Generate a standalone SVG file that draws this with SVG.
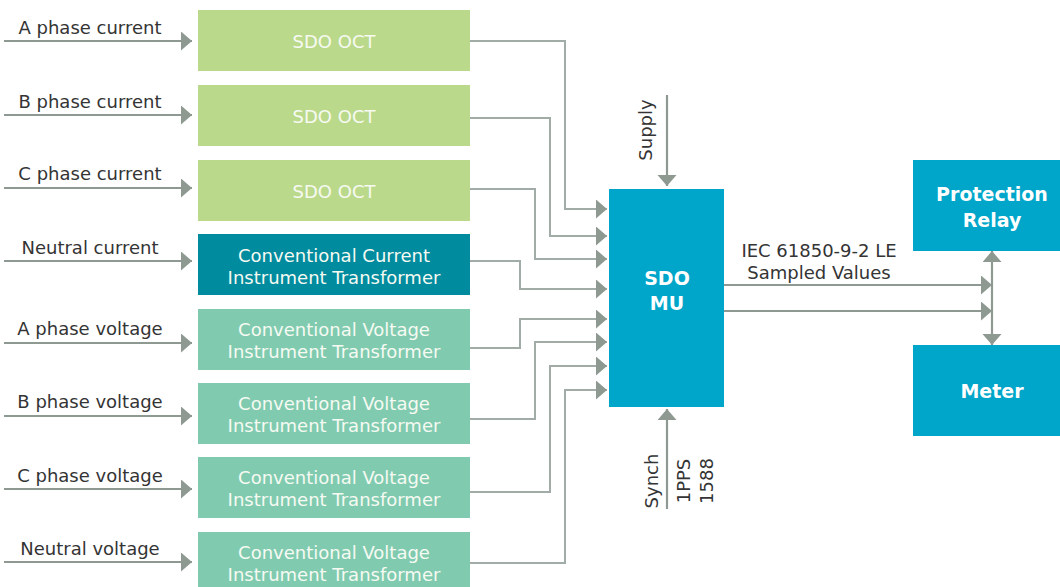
<svg xmlns="http://www.w3.org/2000/svg" width="1060" height="587" viewBox="0 0 1060 587">
<style>
text{font-family:"DejaVu Sans","Liberation Sans",sans-serif;font-size:18px}
.lbl{fill:#343434;text-anchor:middle}
.bt{fill:#f6faf2;text-anchor:middle}
.bb{fill:#ffffff;text-anchor:middle;font-weight:bold;font-size:19px}
.oct{fill:#bbd98a}
.cct{fill:#008b9f}
.cvt{fill:#80cbb0}
.mu{fill:#00a6ca}
.in{stroke:#8d9991;stroke-width:2.2;fill:none}
.cn{stroke:#a2aca7;stroke-width:2;fill:none}
</style>
<defs>
<marker id="ah" markerUnits="userSpaceOnUse" markerWidth="12" markerHeight="20" refX="11" refY="9.5" orient="auto-start-reverse">
<path d="M0,0 L11,9.5 L0,19 z" fill="#8d9991"/>
</marker>
</defs>

<g id="labels">
<text class="lbl" x="90" y="34">A phase current</text>
<text class="lbl" x="90" y="108">B phase current</text>
<text class="lbl" x="90" y="180">C phase current</text>
<text class="lbl" x="90" y="254">Neutral current</text>
<text class="lbl" x="90" y="335">A phase voltage</text>
<text class="lbl" x="90" y="408">B phase voltage</text>
<text class="lbl" x="90" y="482">C phase voltage</text>
<text class="lbl" x="90" y="555">Neutral voltage</text>
</g>

<g id="oct-a"><rect class="oct" x="198" y="10" width="272" height="61"/><text class="bt" x="334" y="48">SDO OCT</text></g>
<g id="oct-b"><rect class="oct" x="198" y="85" width="272" height="61"/><text class="bt" x="334" y="123">SDO OCT</text></g>
<g id="oct-c"><rect class="oct" x="198" y="160" width="272" height="61"/><text class="bt" x="334" y="198">SDO OCT</text></g>
<g id="cct-n"><rect class="cct" x="198" y="234" width="272" height="61"/><text class="bt" x="334" y="262">Conventional Current</text><text class="bt" x="334" y="284">Instrument Transformer</text></g>
<g id="cvt-a"><rect class="cvt" x="198" y="309" width="272" height="61"/><text class="bt" x="334" y="336">Conventional Voltage</text><text class="bt" x="334" y="358">Instrument Transformer</text></g>
<g id="cvt-b"><rect class="cvt" x="198" y="383" width="272" height="61"/><text class="bt" x="334" y="410">Conventional Voltage</text><text class="bt" x="334" y="432">Instrument Transformer</text></g>
<g id="cvt-c"><rect class="cvt" x="198" y="457" width="272" height="61"/><text class="bt" x="334" y="484">Conventional Voltage</text><text class="bt" x="334" y="506">Instrument Transformer</text></g>
<g id="cvt-n"><rect class="cvt" x="198" y="532" width="272" height="61"/><text class="bt" x="334" y="559">Conventional Voltage</text><text class="bt" x="334" y="581">Instrument Transformer</text></g>

<g id="sdo-mu"><rect class="mu" x="609" y="189" width="115" height="218"/><text class="bb" x="667" y="285">SDO</text><text class="bb" x="667" y="310">MU</text></g>
<g id="relay"><rect class="mu" x="913" y="160" width="147" height="91"/><text class="bb" x="992" y="201">Protection</text><text class="bb" x="992" y="227">Relay</text></g>
<g id="meter"><rect class="mu" x="913" y="345" width="147" height="91"/><text class="bb" x="992" y="398">Meter</text></g>

<g id="connectors">
<g class="in" marker-end="url(#ah)">
<line x1="4" y1="41" x2="192" y2="41"/>
<line x1="4" y1="115" x2="192" y2="115"/>
<line x1="4" y1="188" x2="192" y2="188"/>
<line x1="4" y1="261" x2="192" y2="261"/>
<line x1="4" y1="343" x2="192" y2="343"/>
<line x1="4" y1="416" x2="192" y2="416"/>
<line x1="4" y1="489" x2="192" y2="489"/>
<line x1="4" y1="562" x2="192" y2="562"/>
</g>
<g class="cn" marker-end="url(#ah)">
<path d="M470,41 H565 V209 H607"/>
<path d="M470,118 H550 V236 H607"/>
<path d="M470,189 H535 V259 H607"/>
<path d="M470,261 H520 V289 H607"/>
<path d="M470,348 H520 V319 H607"/>
<path d="M470,419 H535 V342 H607"/>
<path d="M470,492 H550 V366 H607"/>
<path d="M470,563 H565 V390 H607"/>
</g>
<g class="in" marker-end="url(#ah)">
<line x1="667" y1="95" x2="667" y2="186"/>
<line x1="667" y1="509" x2="667" y2="409"/>
<line x1="724" y1="285" x2="992" y2="285"/>
<line x1="724" y1="311" x2="992" y2="311"/>
<line x1="992" y1="298" x2="992" y2="251"/>
<line x1="992" y1="298" x2="992" y2="345"/>
</g>
</g>

<g id="annotations">
<text class="lbl" transform="translate(652,130) rotate(-90)">Supply</text>
<text class="lbl" transform="translate(658,481) rotate(-90)">Synch</text>
<text class="lbl" transform="translate(690,481) rotate(-90)">1PPS</text>
<text class="lbl" transform="translate(713,481) rotate(-90)">1588</text>
<text class="lbl" x="819" y="257">IEC 61850-9-2 LE</text>
<text class="lbl" x="819" y="279">Sampled Values</text>
</g>
</svg>
